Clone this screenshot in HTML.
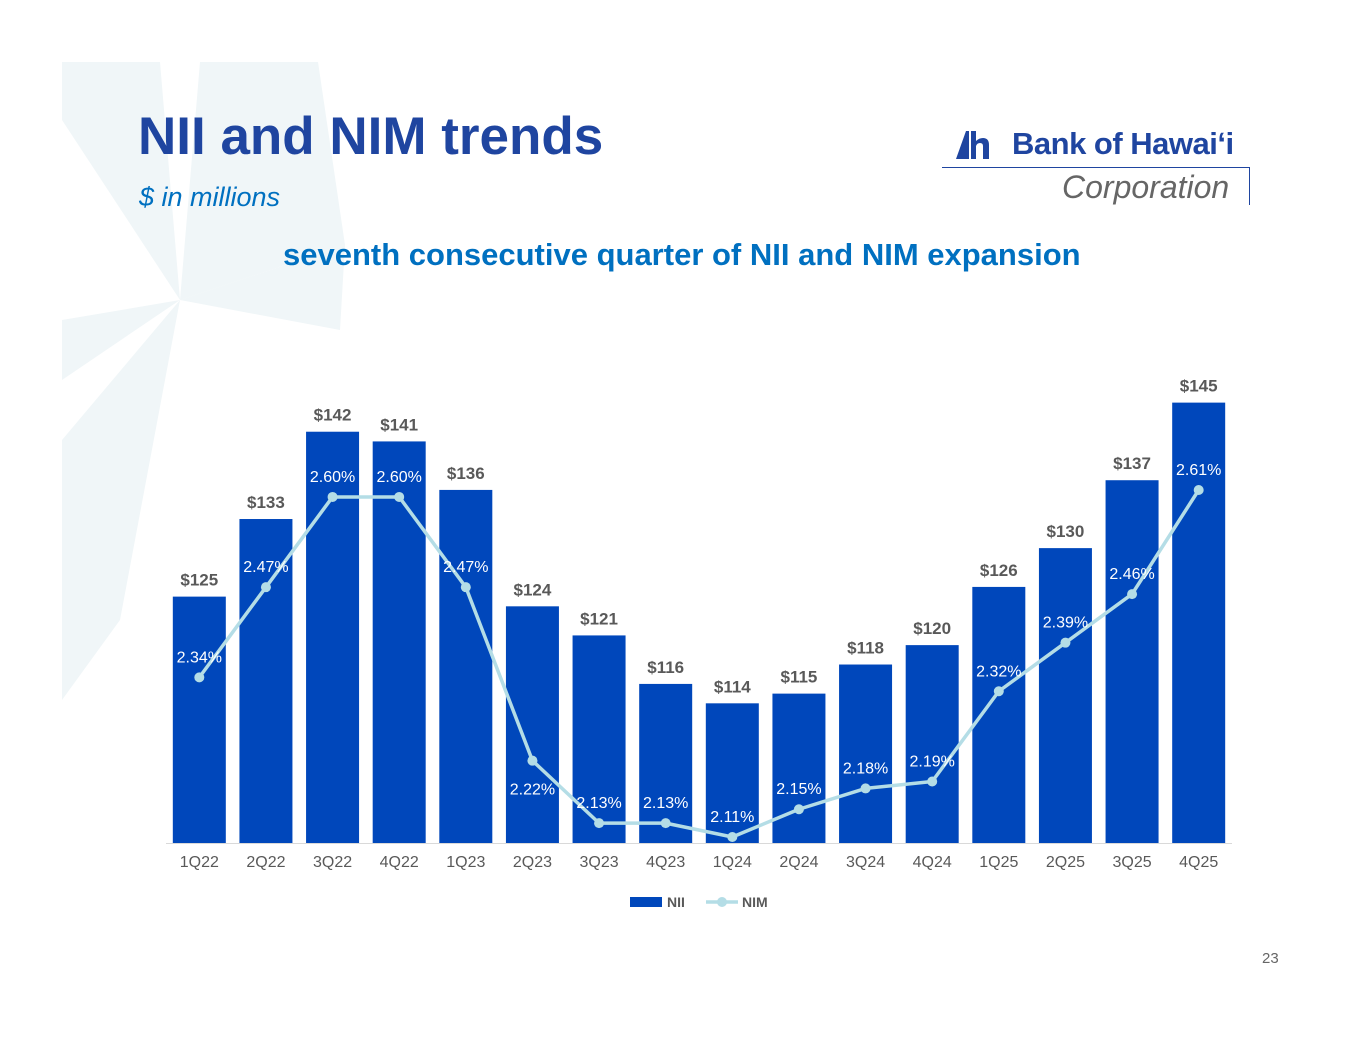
<!DOCTYPE html>
<html><head><meta charset="utf-8"><style>
html,body{margin:0;padding:0;background:#fff;}
body{width:1365px;height:1055px;position:relative;overflow:hidden;font-family:"Liberation Sans",Arial,sans-serif;}
.abs{position:absolute;}
</style></head><body>
<svg class="abs" style="left:0;top:0" width="1365" height="1055">
 <g fill="#f0f6f8">
  <polygon points="62,62 160,62 180,300 62,120"/>
  <polygon points="200,62 318,62 345,245 180,300"/>
  <polygon points="62,320 180,300 62,380"/>
  <polygon points="345,245 180,300 340,330"/>
  <polygon points="62,440 180,300 120,620 62,700"/>
 </g>
</svg>
<div class="abs" style="left:138px;top:106px;font-size:53px;font-weight:bold;color:#1f45a0;">NII and NIM trends</div>
<div class="abs" style="left:139px;top:182px;font-size:27px;font-style:italic;color:#0070c0;">$ in millions</div>
<div class="abs" style="left:283px;top:237px;font-size:31px;font-weight:bold;color:#0070c0;white-space:nowrap;">seventh consecutive quarter of NII and NIM expansion</div>
<div class="abs" style="left:942px;top:125px;width:310px;height:82px;">
 <svg class="abs" style="left:14px;top:6px" width="34" height="28"><polygon points="0,28 10,0 13,0 13,28" fill="#1f45a0"/><path d="M15 0h5v10q3-3 7-3q6 0 6 7v14h-6v-13q0-3-3-3t-4 3v13h-5z" fill="#1f45a0"/></svg>
 <div class="abs" style="left:70px;top:1px;font-size:31px;font-weight:bold;color:#1f45a0;letter-spacing:-0.5px;white-space:nowrap;">Bank of Hawaiʻi</div>
 <div class="abs" style="left:0;top:42px;width:307px;height:1px;background:#1f45a0;"></div>
 <div class="abs" style="left:307px;top:42px;width:1px;height:38px;background:#1f45a0;"></div>
 <div class="abs" style="left:120px;top:44px;font-size:32px;font-style:italic;color:#666;white-space:nowrap;">Corporation</div>
</div>
<svg class="abs" id="chart" style="left:0;top:0" width="1365" height="1055"></svg>
<div class="abs" style="left:1262px;top:950px;font-size:15px;color:#666;">23</div>
<script>
const categories=["1Q22","2Q22","3Q22","4Q22","1Q23","2Q23","3Q23","4Q23","1Q24","2Q24","3Q24","4Q24","1Q25","2Q25","3Q25","4Q25"];
const nii=[125,133,142,141,136,124,121,116,114,115,118,120,126,130,137,145];
const nim=[2.34,2.47,2.60,2.60,2.47,2.22,2.13,2.13,2.11,2.15,2.18,2.19,2.32,2.39,2.46,2.61];
const labelBelow=[false,false,false,false,false,true,false,false,false,false,false,false,false,false,false,false];
const NS="http://www.w3.org/2000/svg";
const svg=document.getElementById('chart');
const x0=166,x1=1232,base=843,band=(x1-x0)/categories.length,bw=53;
const xC=i=>x0+band*(i+0.5);
const yBar=v=>base-(v-99.6)*9.7;
const yNim=v=>837-(v-2.11)*694;
function mk(t,a){const e=document.createElementNS(NS,t);for(const k in a)e.setAttribute(k,a[k]);svg.appendChild(e);return e;}
nii.forEach((v,i)=>{
 const r=mk('rect',{x:xC(i)-bw/2,y:yBar(v),width:bw,height:base-yBar(v),fill:'#0047bb'});
 
 
 const t=mk('text',{x:xC(i),y:yBar(v)-11,'text-anchor':'middle','font-size':17,'font-weight':'bold',fill:'#595959','font-family':'Liberation Sans, sans-serif'});
 t.textContent='$'+v;
 
 
 const c=mk('text',{x:xC(i),y:base+24,'text-anchor':'middle','font-size':16,fill:'#595959','font-family':'Liberation Sans, sans-serif'});
 c.textContent=categories[i];
 
 
});
const ax=mk('line',{x1:x0,x2:x1,y1:base+0.5,y2:base+0.5,stroke:'#d9d9d9','stroke-width':1});


const pl=mk('polyline',{points:nim.map((v,i)=>xC(i)+','+yNim(v)).join(' '),fill:'none',stroke:'#b4dde6','stroke-width':3.5,'stroke-linejoin':'round'});


nim.forEach((v,i)=>{
 const p=mk('circle',{cx:xC(i),cy:yNim(v),r:5,fill:'#b4dde6'});
 
 
 const t=mk('text',{x:xC(i),y:yNim(v)+(labelBelow[i]?34:-15),'text-anchor':'middle','font-size':16,fill:'#ffffff','font-family':'Liberation Sans, sans-serif'});
 t.textContent=v.toFixed(2)+'%';
 
 
});
const lg1=mk('rect',{x:630,y:897,width:32,height:10,fill:'#0047bb'});


const lt1=mk('text',{x:667,y:907,'font-size':14,'font-weight':'bold',fill:'#595959','font-family':'Liberation Sans, sans-serif'});lt1.textContent='NII';


const lg2=mk('line',{x1:706,x2:738,y1:902,y2:902,stroke:'#b4dde6','stroke-width':3.5});


const lc=mk('circle',{cx:722,cy:902,r:5,fill:'#b4dde6'});


const lt2=mk('text',{x:742,y:907,'font-size':14,'font-weight':'bold',fill:'#595959','font-family':'Liberation Sans, sans-serif'});lt2.textContent='NIM';


</script>
</body></html>
